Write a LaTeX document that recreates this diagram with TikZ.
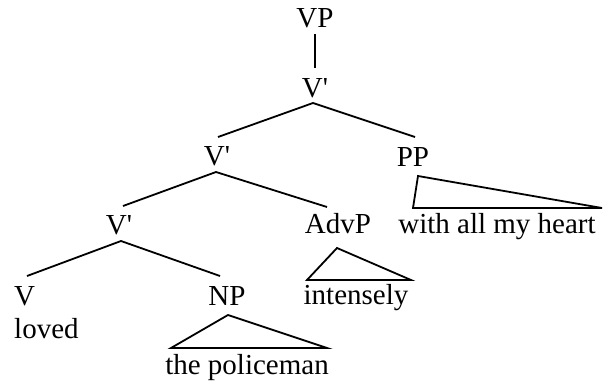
\documentclass[tikz,border=0pt]{standalone}
\usepackage{fontspec}
\setmainfont{Liberation Serif}
\newfontfamily\qfont{Liberation Serif}
\usetikzlibrary{calc}
\newcommand{\pr}{{\qfont'}}
\begin{document}
\begin{tikzpicture}[x=1pt,y=-1pt,
  tx/.style={inner sep=0pt,anchor=base,font=\fontsize{29}{34}\selectfont},
  br/.style={line width=1.8pt}]
\useasboundingbox (0,0) rectangle (603,383);
\node[tx] (vp) at (315,27) {VP};
\node[tx] (v1) at (315,97) {V\pr};
\node[tx] (v2) at (217,165) {V\pr};
\node[tx] (pp) at (413,166) {PP};
\node[tx] (v3) at (119,234) {V\pr};
\node[tx] (adv) at (338,233) {AdvP};
\node[tx] (heart) at (497,233) {with all my heart};
\node[tx,anchor=base west] (v) at (14,305) {V};
\node[tx] (np) at (227,305) {NP};
\node[tx] (int) at (356,304) {intensely};
\node[tx,anchor=base west] (loved) at (14,338) {loved};
\node[tx] (pol) at (247,374) {the policeman};
% branches
\draw[br] ($(vp.base)+(0,7)$) -- ($(v1.base)+(0,-29)$);
\draw[br] ($(v2.base)+(1,-28)$) -- ($(v1.base)+(-2,6)$) -- ($(pp.base)+(2,-29)$);
\draw[br] ($(v3.base)+(4,-28)$) -- ($(v2.base)+(-1,7)$) -- ($(adv.base)+(-11,-26)$);
\draw[br] ($(v.base west)+(13,-29)$) -- ($(v3.base)+(2,7)$) -- ($(np.base)+(-7,-29)$);
% triangles
\draw[br] ($(pp.base)+(5,10)$) -- ($(heart.base)+(-84,-25)$) -- ($(heart.base)+(105,-25)$) -- cycle;
\draw[br] ($(adv.base)+(-1,15)$) -- ($(int.base)+(-49,-24)$) -- ($(int.base)+(55,-24)$) -- cycle;
\draw[br] ($(np.base)+(1,10)$) -- ($(pol.base)+(-76,-26)$) -- ($(pol.base)+(80,-26)$) -- cycle;
\end{tikzpicture}
\end{document}
